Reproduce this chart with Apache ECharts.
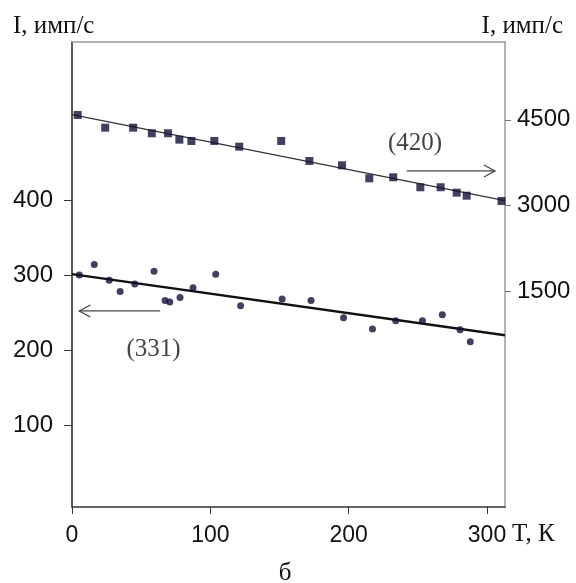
<!DOCTYPE html>
<html><head><meta charset="utf-8">
<script src="https://cdn.jsdelivr.net/npm/echarts@6/dist/echarts.min.js"></script>
<style>html,body{margin:0;padding:0;background:#fff}#c{width:576px;height:583px}</style>
</head><body><div id="c"></div>
<script>
// Reflection (420) — right axis, squares
const T420 = [4.1, 24, 44.2, 57.7, 69.4, 77.6, 86.3, 102.9, 120.9, 151.2, 171.6, 195.2, 214.9, 232.2, 251.8, 266.5, 278.1, 285.3, 310.5];
const I420 = [4586, 4363, 4363, 4265, 4265, 4153, 4130, 4130, 4030, 4130, 3779, 3703, 3475, 3493, 3318, 3318, 3223, 3170, 3077];
// Reflection (331) — left axis, circles
const T331 = [5.3, 16.1, 26.9, 34.8, 45.4, 59.3, 67.3, 70.7, 78.1, 87.5, 103.9, 121.9, 151.9, 172.8, 196.3, 217.2, 234, 253.3, 267.7, 280.5, 287.9];
const I331 = [301, 315, 294, 279, 289, 306, 267, 265, 271, 284, 302, 260, 269, 267, 244, 229, 240, 240, 248, 228, 212];
// Linear fits
const fitT = [0, 313];
const fit420 = [4593, 3082];
const fit331 = [302, 220.5];
// Tick labels
const xTicks = [0, 100, 200, 300];
const yLeftTicks = [100, 200, 300, 400];
const yRightTicks = [1500, 3000, 4500];

const chart = echarts.init(document.getElementById('c'), null, {renderer: 'canvas'});
const tickFont = {fontFamily: '"Liberation Sans", Arial, sans-serif', fontSize: 23, color: '#111', formatter: v => String(v)};
const serif = '"Liberation Serif", "Times New Roman", serif';
const markColor = '#12103a';

const option = {
  animation: false,
  grid: {left: 72, right: 71, top: 42, bottom: 76},
  xAxis: [
    {type: 'value', min: 0, max: 313, position: 'bottom',
     axisLine: {show: true, onZero: false, lineStyle: {color: '#333', width: 1.5}},
     axisTick: {show: true, length: 7, customValues: xTicks, lineStyle: {color: '#333'}},
     axisLabel: {customValues: xTicks, margin: 17, ...tickFont},
     splitLine: {show: false}},
    {type: 'value', min: 0, max: 313, position: 'top',
     axisLine: {show: true, onZero: false, lineStyle: {color: '#999', width: 1.5}},
     axisTick: {show: false}, axisLabel: {show: false}, splitLine: {show: false}}
  ],
  yAxis: [
    {type: 'value', min: -8.5, max: 611.5, position: 'left',
     axisLine: {show: true, onZero: false, lineStyle: {color: '#222', width: 1.5}},
     axisTick: {show: true, length: 8, customValues: yLeftTicks, lineStyle: {color: '#333'}},
     axisLabel: {customValues: yLeftTicks, margin: 19, ...tickFont, fontSize: 24},
     splitLine: {show: false}},
    {type: 'value', min: -2291, max: 5866, position: 'right',
     axisLine: {show: true, onZero: false, lineStyle: {color: '#999', width: 1.5}},
     axisTick: {show: true, length: 6, customValues: yRightTicks, lineStyle: {color: '#777'}},
     axisLabel: {customValues: yRightTicks, margin: 12, ...tickFont, fontSize: 24},
     splitLine: {show: false}}
  ],
  series: [
    {type: 'line', xAxisIndex: 0, yAxisIndex: 1, data: fitT.map((t, i) => [t, fit420[i]]),
     showSymbol: false, lineStyle: {color: '#333', width: 1.3}, z: 2},
    {type: 'line', xAxisIndex: 0, yAxisIndex: 0, data: fitT.map((t, i) => [t, fit331[i]]),
     showSymbol: false, lineStyle: {color: '#111', width: 2.5}, z: 2},
    {type: 'scatter', xAxisIndex: 0, yAxisIndex: 1, symbol: 'rect', symbolSize: 8,
     data: T420.map((t, i) => [t, I420[i]]), itemStyle: {color: markColor}, z: 3},
    {type: 'scatter', xAxisIndex: 0, yAxisIndex: 0, symbol: 'circle', symbolSize: 7,
     data: T331.map((t, i) => [t, I331[i]]), itemStyle: {color: markColor}, z: 3}
  ]
};
chart.setOption(option);

// annotations positioned via the chart's own scales
const pR = (t, v) => chart.convertToPixel({xAxisIndex: 0, yAxisIndex: 1}, [t, v]);
const pL = (t, v) => chart.convertToPixel({xAxisIndex: 0, yAxisIndex: 0}, [t, v]);
const a420s = pR(242, 3604), a420e = pR(305.7, 3604);
const a331s = pL(5.3, 252.9), a331e = pL(63.7, 252.9);
const l420 = pR(248, 4095), l331 = pL(59, 202);
const arrowStyle = {stroke: '#444', lineWidth: 1.3, fill: null};
const gfx = [
  {type: 'line', shape: {x1: a420s[0], y1: a420s[1], x2: a420e[0], y2: a420e[1]}, style: arrowStyle},
  {type: 'polyline', shape: {points: [[a420e[0] - 11, a420e[1] - 6], [a420e[0], a420e[1]], [a420e[0] - 11, a420e[1] + 6]]}, style: arrowStyle},
  {type: 'line', shape: {x1: a331s[0], y1: a331s[1], x2: a331e[0], y2: a331e[1]}, style: arrowStyle},
  {type: 'polyline', shape: {points: [[a331s[0] + 11, a331s[1] - 6], [a331s[0], a331s[1]], [a331s[0] + 11, a331s[1] + 6]]}, style: arrowStyle},
  {type: 'text', x: l420[0], y: l420[1], style: {text: '(420)', font: '25px ' + serif, fill: '#444', textAlign: 'center', textVerticalAlign: 'middle'}},
  {type: 'text', x: l331[0], y: l331[1], style: {text: '(331)', font: '25px ' + serif, fill: '#444', textAlign: 'center', textVerticalAlign: 'middle'}},
  {type: 'text', x: 13, y: 26, style: {text: 'I, имп/с', font: '25px ' + serif, fill: '#111', textAlign: 'left', textVerticalAlign: 'middle'}},
  {type: 'text', x: 563, y: 26, style: {text: 'I, имп/с', font: '25px ' + serif, fill: '#111', textAlign: 'right', textVerticalAlign: 'middle'}},
  {type: 'text', x: 512, y: 534, style: {text: 'T, К', font: '25px ' + serif, fill: '#111', textAlign: 'left', textVerticalAlign: 'middle'}},
  {type: 'text', x: 285, y: 573, style: {text: 'б', font: '25px ' + serif, fill: '#111', textAlign: 'center', textVerticalAlign: 'middle'}}
];
chart.setOption({graphic: gfx});
</script>
</body></html>
